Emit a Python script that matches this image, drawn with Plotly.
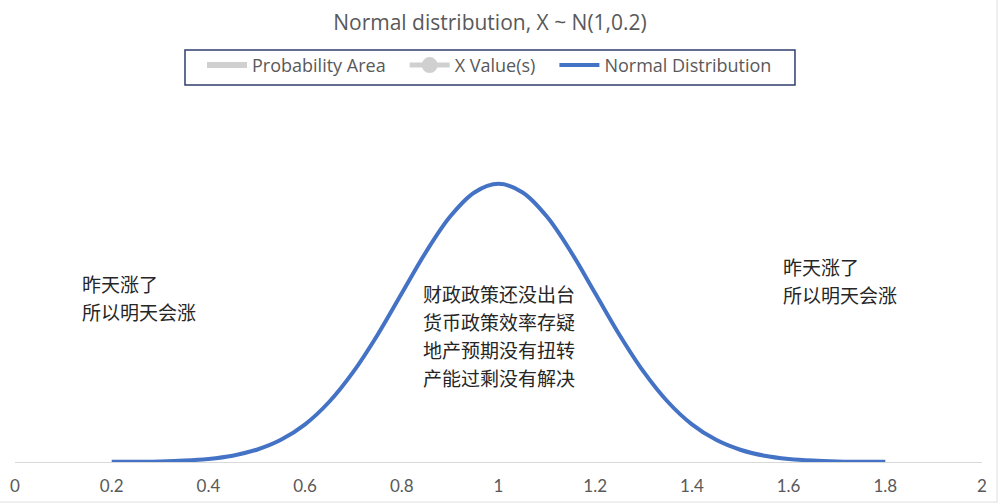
import plotly.graph_objects as go

# ---- data ----
x_vals = [0.2, 0.25, 0.3, 0.35, 0.4, 0.45, 0.5, 0.55, 0.6, 0.65, 0.7, 0.75, 0.8,
          0.85, 0.9, 0.95, 1.0, 1.05, 1.1, 1.15, 1.2, 1.25, 1.3, 1.35, 1.4, 1.45,
          1.5, 1.55, 1.6, 1.65, 1.7, 1.75, 1.8]
y_vals = [0.001, 0.002, 0.004, 0.010, 0.022, 0.045, 0.088, 0.159, 0.270, 0.432,
          0.648, 0.913, 1.210, 1.506, 1.760, 1.933, 1.995, 1.933, 1.760, 1.506,
          1.210, 0.913, 0.648, 0.432, 0.270, 0.159, 0.088, 0.045, 0.022, 0.010,
          0.004, 0.002, 0.001]
tick_vals = [0, 0.2, 0.4, 0.6, 0.8, 1, 1.2, 1.4, 1.6, 1.8, 2]
tick_text = ["0", "0.2", "0.4", "0.6", "0.8", "1", "1.2", "1.4", "1.6", "1.8", "2"]

series_names = ["Probability Area", "X Value(s)", "Normal Distribution"]

left_lines = ["昨天涨了", "所以明天会涨"]
center_lines = ["财政政策还没出台", "货币政策效率存疑", "地产预期没有扭转", "产能过剩没有解决"]
right_lines = ["昨天涨了", "所以明天会涨"]

title = "Normal distribution, X ~ N(1,0.2)"

GRAY = "#595959"
CJK = "Noto Sans CJK SC"
LAT = "Lato, 'Liberation Sans Narrow', sans-serif"
OPEN = "'Open Sans', sans-serif"
PAD = "\u00a0\u00a0\u00a0"

fig = go.Figure()
fig.add_trace(go.Scatter(x=[None], y=[None], mode="lines", name=series_names[0] + PAD,
                         line=dict(color="#D0D0D0", width=6)))
fig.add_trace(go.Scatter(x=[None], y=[None], mode="lines+markers", name=series_names[1] + PAD,
                         line=dict(color="#D0D0D0", width=5),
                         marker=dict(color="#D0D0D0", size=16)))
fig.add_trace(go.Scatter(x=x_vals, y=y_vals, mode="lines", name=series_names[2],
                         line=dict(color="#4472C4", width=4, shape="spline"),
                         hoverinfo="x+y"))

annotations = []
def add_lines(lines, x, ys):
    for t, y in zip(lines, ys):
        annotations.append(dict(x=x, y=y, xref="x", yref="y", text=t, showarrow=False,
                                xanchor="left", yanchor="middle", borderpad=0,
                                font=dict(family=CJK, size=19, color="#262626")))

add_lines(left_lines, 0.137, [1.2805, 1.0796])
add_lines(center_lines, 0.842, [1.2088, 1.0080, 0.8070, 0.6062])
add_lines(right_lines, 1.586, [1.3996, 1.2016])

fig.update_layout(
    width=1000, height=503,
    margin=dict(l=15, r=18, t=112, b=41, autoexpand=False),
    paper_bgcolor="white", plot_bgcolor="white",
    title=dict(text=title, x=0.49, xanchor="center", y=0.954, yanchor="middle",
               font=dict(family=OPEN, size=21, color=GRAY)),
    showlegend=True,
    legend=dict(orientation="h", x=0.1934, xanchor="left", y=1.186, yanchor="top",
                borderwidth=0, bgcolor="rgba(0,0,0,0)",
                font=dict(family=OPEN, size=18, color=GRAY),
                itemwidth=40, tracegroupgap=0),
    xaxis=dict(range=[0, 2], tickvals=tick_vals, ticktext=tick_text, automargin=False,
               showgrid=False, zeroline=False, showline=True, linecolor="#D9D9D9",
               linewidth=1, ticks="", ticklabelstandoff=9,
               tickfont=dict(family=LAT, size=17, color=GRAY)),
    yaxis=dict(range=[0, 2.51], visible=False, showgrid=False, zeroline=False,
               automargin=False),
    annotations=annotations,
    shapes=[
        dict(type="rect", xref="paper", yref="paper", x0=0.1758, x1=0.8066,
             y0=1.077, y1=1.177, line=dict(color="#2F3E6E", width=1.5),
             fillcolor="rgba(0,0,0,0)", layer="below"),
        dict(type="line", xref="paper", yref="paper", x0=1.0155, x1=1.0155,
             y0=-0.12, y1=1.32, line=dict(color="#E0E0E0", width=1)),
        dict(type="line", xref="paper", yref="paper", x0=-0.02, x1=1.0155,
             y0=-0.1143, y1=-0.1143, line=dict(color="#E0E0E0", width=1)),
    ],
)

fig.write_html("out.html", post_script="document.body.style.margin='0';",
               config={"displayModeBar": False})
